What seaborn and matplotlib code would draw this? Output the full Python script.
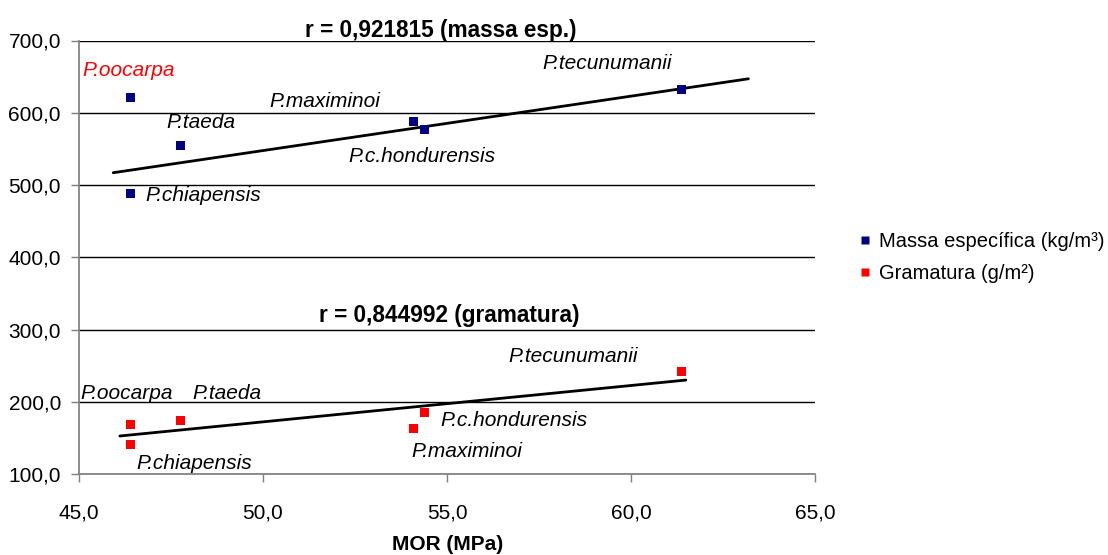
import numpy as np
import pandas as pd
import matplotlib
matplotlib.use("Agg")
import matplotlib.pyplot as plt
import seaborn as sns

# ---- data ----
species = ["P.oocarpa", "P.taeda", "P.chiapensis", "P.maximinoi", "P.c.hondurensis", "P.tecunumanii"]
mor = [46.41, 47.77, 46.41, 54.08, 54.39, 61.37]
massa = [621.0, 554.0, 488.5, 587.6, 577.5, 631.5]
gramatura = [169.0, 174.5, 141.0, 163.0, 185.0, 242.5]
trend_massa_x = [45.93, 63.19]
trend_massa_y = [517.0, 647.0]
trend_gram_x = [46.11, 61.49]
trend_gram_y = [152.6, 230.0]
series_names = ["Massa específica (kg/m³)", "Gramatura (g/m²)"]
r_labels = ["r = 0,921815 (massa esp.)", "r = 0,844992 (gramatura)"]
x_ticks = [45.0, 50.0, 55.0, 60.0, 65.0]
y_ticks = [100.0, 200.0, 300.0, 400.0, 500.0, 600.0, 700.0]

df = pd.DataFrame({
    "MOR": mor * 2,
    "valor": massa + gramatura,
    "serie": [series_names[0]] * len(mor) + [series_names[1]] * len(mor),
})

sns.set_theme(style="white")
plt.rcParams["font.family"] = ["Liberation Sans", "DejaVu Sans"]
plt.rcParams["text.color"] = "black"
plt.rcParams["axes.labelcolor"] = "black"

fig = plt.figure(figsize=(11.08, 5.55), dpi=100)
ax = fig.add_axes([79 / 1108, 1 - 474 / 555, 736 / 1108, 433.5 / 555])

sns.scatterplot(data=df, x="MOR", y="valor", hue="serie", marker="s", s=42,
                palette=["#000080", "#FF0000"], edgecolor="none", ax=ax, zorder=3,
                legend=True)

sns.lineplot(x=trend_massa_x, y=trend_massa_y, color="black", lw=2, ax=ax, zorder=2)
sns.lineplot(x=trend_gram_x, y=trend_gram_y, color="black", lw=2, ax=ax, zorder=2)

ax.set_xlim(45, 65)
ax.set_ylim(100, 700)
ax.set_xticks(x_ticks)
ax.set_yticks(y_ticks)
ax.set_xticklabels([f"{v:.1f}".replace(".", ",") for v in x_ticks])
ax.set_yticklabels([f"{v:.1f}".replace(".", ",") for v in y_ticks])
ax.tick_params(axis="both", labelsize=15, colors="#808080", labelcolor="black",
               length=6, width=1, direction="out")
ax.tick_params(axis="x", pad=15)
ax.tick_params(axis="y", pad=7)
ax.xaxis.set_ticks_position("bottom")
ax.yaxis.set_ticks_position("left")

ax.yaxis.grid(True, color="black", lw=1)
ax.set_axisbelow(True)
for s in ["top", "right"]:
    ax.spines[s].set_visible(False)
ax.spines["left"].set_color("#808080")
ax.spines["bottom"].set_color("#808080")
ax.set_xlabel("")
ax.set_ylabel("")

# labels of points
massa_lbl_pos = [(45.1, 658), (47.37, 587), (46.8, 485), (50.17, 615), (52.32, 540), (57.6, 668)]
gram_lbl_pos = [(45.05, 212), (48.09, 212), (46.57, 115), (54.03, 130.5), (54.82, 174), (56.67, 262)]
for i, name in enumerate(species):
    ax.text(*massa_lbl_pos[i], name, fontsize=15, style="italic", va="center", ha="left",
            color="red" if name == "P.oocarpa" else "black", zorder=4)
    ax.text(*gram_lbl_pos[i], name, fontsize=15, style="italic", va="center", ha="left",
            color="black", zorder=4)

ax.text(54.82, 714.5, r_labels[0], fontsize=16.3, fontweight="bold", ha="center", va="center",
        clip_on=False, color="black")
ax.text(55.05, 320, r_labels[1], fontsize=16.3, fontweight="bold", ha="center", va="center",
        color="black")

fig.text(448 / 1108, 1 - 545 / 555, "MOR (MPa)", fontsize=15, fontweight="bold",
         ha="center", va="center", color="black")

leg = ax.legend(loc="center left", bbox_to_anchor=(855 / 1108, 1 - 257.5 / 555),
                bbox_transform=fig.transFigure, frameon=False, fontsize=14.5,
                handlelength=1.0, handletextpad=0.2, borderpad=0, borderaxespad=0,
                labelspacing=0.65, title=None, markerscale=0.8)
for t in leg.get_texts():
    t.set_color("black")

fig.savefig("out.png", dpi=100)
